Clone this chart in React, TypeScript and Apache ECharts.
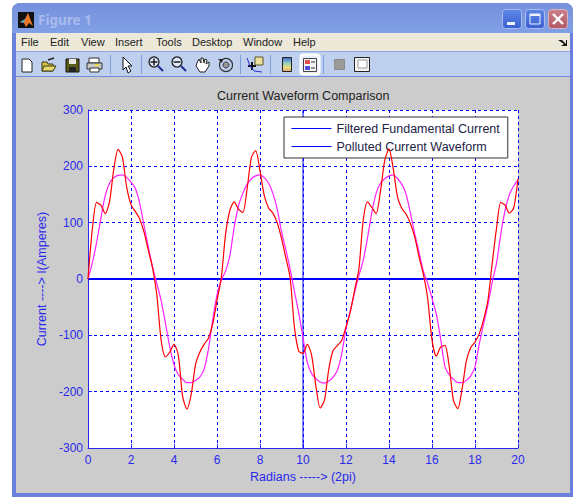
import React, { useEffect, useRef } from "react";
import * as echarts from "echarts";

const chartTitle = "Current Waveform Comparison";
const xName = "Radians -----> (2pi)";
const yName = "Current ----> I(Amperes)";
const windowTitle = "Figure 1";
const legendNames = ["Filtered Fundamental Current", "Polluted Current Waveform"];
const menuLabels = ["File", "Edit", "View", "Insert", "Tools", "Desktop", "Window", "Help"];
const menuLefts = [21, 50, 81, 115, 156, 192, 243, 293];

const xValues = [
  0, 0.2, 0.4, 0.6, 0.8, 1, 1.2, 1.4, 1.6, 1.8,
  2, 2.2, 2.4, 2.6, 2.8, 3, 3.2, 3.4, 3.6, 3.8,
  4, 4.2, 4.4, 4.6, 4.8, 5, 5.2, 5.4, 5.6, 5.8,
  6, 6.2, 6.4, 6.6, 6.8, 7, 7.2, 7.4, 7.6, 7.8,
  8, 8.2, 8.4, 8.6, 8.8, 9, 9.2, 9.4, 9.6, 9.8,
  10, 10.2, 10.4, 10.6, 10.8, 11, 11.2, 11.4, 11.6, 11.8,
  12, 12.2, 12.4, 12.6, 12.8, 13, 13.2, 13.4, 13.6, 13.8,
  14, 14.2, 14.4, 14.6, 14.8, 15, 15.2, 15.4, 15.6, 15.8,
  16, 16.2, 16.4, 16.6, 16.8, 17, 17.2, 17.4, 17.6, 17.8,
  18, 18.2, 18.4, 18.6, 18.8, 19, 19.2, 19.4, 19.6, 19.8,
  20,
];
const redValues = [
  0, 88, 136, 131, 116, 137, 195, 230, 216, 163,
  132, 120, 107, 84, 52, 20, -28, -108, -138, -130,
  -116, -135, -208, -231, -205, -152, -130, -116, -105, -80,
  -38, 2, 80, 122, 137, 124, 118, 160, 216, 228,
  192, 148, 126, 117, 100, 72, 38, 3, -85, -128,
  -132, -116, -135, -190, -229, -215, -160, -127, -118, -109,
  -85, -58, -20, 18, 104, 137, 127, 116, 155, 210,
  231, 195, 145, 125, 115, 98, 74, 39, 8, -35,
  -108, -137, -121, -118, -155, -216, -230, -195, -145, -122,
  -112, -97, -72, -38, 28, 90, 136, 131, 117, 126,
  178,
];
const magentaValues = [
  0, 28, 65, 108, 148, 170, 180, 184, 185, 180,
  172, 161, 135, 96, 58, 22, -8, -38, -78, -120,
  -152, -170, -178, -184, -184, -180, -174, -160, -125, -72,
  -28, -2, 14, 42, 92, 130, 152, 168, 178, 183,
  185, 180, 170, 152, 124, 84, 52, 18, -22, -60,
  -104, -148, -168, -177, -183, -185, -181, -174, -162, -133,
  -88, -56, -24, 6, 33, 73, 118, 152, 170, 178,
  183, 185, 178, 168, 150, 116, 80, 47, 14, -8,
  -34, -62, -106, -155, -170, -178, -184, -184, -180, -172,
  -156, -115, -80, -46, -6, 28, 80, 122, 150, 165,
  176,
];
const zeroLine = [[0, 0], [20, 0]];
const verticalLine = [[10, -300], [10, 300]];

const FONT = "'Liberation Sans', Arial, sans-serif";
const BLUE = "#2a2aee";

const r = (x: number, y: number, w: number, h: number, fill: any, extra: any = {}) => ({
  type: "rect", z: -5, shape: { x, y, width: w, height: h, r: extra.r ?? 0 },
  style: { fill, stroke: extra.stroke, lineWidth: extra.lw ?? 1 }, silent: true,
});
const poly = (points: number[][], fill: any, stroke?: string) => ({
  type: "polygon", z: -4, shape: { points }, style: { fill, stroke, lineWidth: 1 }, silent: true,
});
const ln = (x1: number, y1: number, x2: number, y2: number, stroke: string, lw = 1) => ({
  type: "line", z: -4, shape: { x1, y1, x2, y2 }, style: { stroke, lineWidth: lw }, silent: true,
});
const circ = (cx: number, cy: number, rad: number, fill: string, stroke: string, lw = 1) => ({
  type: "circle", z: -4, shape: { cx, cy, r: rad }, style: { fill, stroke, lineWidth: lw }, silent: true,
});
const vGrad = (stops: [number, string][]) => ({
  type: "linear", x: 0, y: 0, x2: 0, y2: 1,
  colorStops: stops.map(([offset, color]) => ({ offset, color })),
});

function chrome(): any[] {
  const els: any[] = [
    r(12, 3, 561, 494, "#6b7fdc", { r: [8, 8, 0, 0] }),
    r(12, 3, 561, 30, vGrad([[0, "#7590de"], [0.5, "#7b98e0"], [1, "#80a0e6"]]), { r: [8, 8, 0, 0] }),
    r(16, 33, 554, 18, "#ece9d8"),
    r(16, 51, 554, 25, "#bfd0ef"),
    ln(16, 51.5, 570, 51.5, "#8ea6e4"),
    r(16, 76, 554, 1.5, "#6d8ce0"),
    r(16, 77, 554, 416, "#cccccc"),
    // plot background
    r(88, 110, 430, 338, "#ffffff"),
    // window logo
    r(18, 12, 16, 16, "#111111"),
    poly([[20, 22], [25, 19], [28, 13], [33, 26], [29, 23], [26, 27], [24, 23]], "#e8772a"),
    poly([[20, 22], [25, 19], [24, 23]], "#4aa3c8"),
    // window buttons
    r(502.5, 9.5, 19, 19, vGrad([[0, "#5e86e6"], [1, "#3a5fd0"]]), { r: 3, stroke: "#a9bdf0" }),
    r(507, 22, 8, 3, "#eef2ff"),
    r(525.5, 9.5, 19, 19, vGrad([[0, "#5e86e6"], [1, "#3a5fd0"]]), { r: 3, stroke: "#a9bdf0" }),
    r(530, 14, 10, 10, "none", { stroke: "#eef2ff" }),
    r(530, 14, 10, 2, "#eef2ff"),
    r(548.5, 9.5, 19, 19, vGrad([[0, "#c98088"], [1, "#b25a68"]]), { r: 3, stroke: "#d9b3c0" }),
    ln(553, 14, 563, 24, "#ffffff", 2.4),
    ln(563, 14, 553, 24, "#ffffff", 2.4),
    // menu chevron
    poly([[558, 40], [562, 40], [566, 44], [566, 40], [567, 40], [567, 46], [561, 46], [564, 44]], "#111111"),
    // new doc
    poly([[22, 59], [29, 59], [32, 62], [32, 72], [22, 72]], "#ffffff", "#222222"),
    // open folder
    poly([[42, 62], [47, 62], [48, 64], [53, 64], [53, 71], [42, 71]], "#d8c24a", "#3a3a10"),
    poly([[44, 66], [56, 66], [53, 71], [42, 71]], "#e8d870", "#3a3a10"),
    ln(48, 60, 54, 58, "#222222", 1.5),
    // save
    r(66, 59, 13, 13, "#5a5a18", { stroke: "#111111" }),
    r(69, 59, 7, 5, "#e8e8e0"),
    r(69, 67, 7, 5, "#222222"),
    // print
    r(89, 58, 10, 5, "#ffffff", { stroke: "#333333" }),
    r(87, 63, 15, 6, "#c8c8c8", { stroke: "#333333" }),
    r(90, 68, 9, 4, "#ffffff", { stroke: "#333333" }),
    r(95, 64, 4, 2, "#e8d840"),
    // separators
    ln(110.5, 55, 110.5, 74, "#7f9cd8"),
    ln(141.5, 55, 141.5, 74, "#7f9cd8"),
    ln(240.5, 55, 240.5, 74, "#7f9cd8"),
    ln(270.5, 55, 270.5, 74, "#7f9cd8"),
    ln(323.5, 55, 323.5, 74, "#7f9cd8"),
    // arrow
    poly([[123, 57], [123, 70], [126, 67], [128, 73], [131, 71], [128, 66], [132, 66]], "#ffffff", "#111111"),
    // zoom in
    circ(154, 62, 5, "#dfe8fa", "#222222", 1.3),
    ln(150.5, 62, 157.5, 62, "#111111", 1.4),
    ln(154, 58.5, 154, 65.5, "#111111", 1.4),
    ln(158, 66, 163, 71, "#1a2a90", 2),
    // zoom out
    circ(177, 62, 5, "#dfe8fa", "#222222", 1.3),
    ln(173.5, 62, 180.5, 62, "#111111", 1.4),
    ln(181, 66, 186, 71, "#1a2a90", 2),
    // hand
    poly([[197, 63], [199, 59], [201, 63], [201, 58], [203, 58], [204, 63], [205, 59], [207, 60], [206, 64], [209, 62], [209, 66], [205, 72], [200, 72], [196, 66]], "#ffffff", "#222222"),
    // rotate
    circ(226, 65, 6.5, "none", "#333333", 1.2),
    circ(226, 65, 3, "#999999", "#333333", 1),
    poly([[218, 59], [223, 59], [222, 63]], "#222222"),
    // data cursor
    r(255, 57, 8, 8, "#ecdf9a", { stroke: "#555530" }),
    ln(248, 66, 256, 66, "#111111", 2),
    ln(252, 62, 252, 70, "#111111", 2),
    { type: "polyline", z: -4, shape: { points: [[247, 58], [250, 66], [254, 71], [262, 72]] }, style: { stroke: "#2a2ad0", fill: "none", lineWidth: 1 }, silent: true },
    // colorbar
    r(282.5, 57.5, 9, 14, vGrad([[0, "#4060d0"], [0.4, "#90d0c0"], [0.7, "#e8e080"], [1, "#e8a070"]]), { stroke: "#222222" }),
    // legend toggle
    r(300.5, 54.5, 19, 20, "#e8eefa", { r: 3, stroke: "#ffffff", lw: 2 }),
    r(303.5, 58.5, 13, 13, "#f4f4f4", { stroke: "#444444" }),
    r(305, 60, 5, 4, "#e85050"),
    r(305, 66, 5, 4, "#5050e0"),
    ln(311, 62, 315, 62, "#333333"),
    ln(311, 68, 315, 68, "#333333"),
    // grey square
    r(334.5, 59.5, 10, 10, "#9a9a9a", { stroke: "#8a8a8a" }),
    // window icon
    r(354.5, 57.5, 15, 14, "#f4f4f4", { stroke: "#222222" }),
    r(358, 60, 9, 8, "#ffffff", { stroke: "#999999" }),
    // window title text
    {
      type: "text", z: -3, x: 38, y: 20, silent: true,
      style: { text: windowTitle, fill: "#a9bbee", font: `bold 13.5px 'Noto Sans', ${FONT}`, textVerticalAlign: "middle" },
    },
  ];
  menuLabels.forEach((label, i) => {
    els.push({
      type: "text", z: -3, x: menuLefts[i], y: 42, silent: true,
      style: { text: label, fill: "#222222", font: `11px ${FONT}`, textVerticalAlign: "middle" },
    });
  });
  return els;
}

export default function App() {
  const ref = useRef<HTMLDivElement>(null);
  useEffect(() => {
    document.body.style.margin = "0";
    document.body.style.overflow = "hidden";
    const chart = echarts.init(ref.current!, undefined, { renderer: "svg" });
    const pair = (ys: number[]) => xValues.map((x, i) => [x, ys[i]]);
    chart.setOption({
      animation: false,
      backgroundColor: "#ffffff",
      textStyle: { fontFamily: FONT },
      title: {
        text: chartTitle, left: 215, top: 87, padding: 2,
        textStyle: { fontFamily: FONT, fontSize: 12.5, fontWeight: "normal", color: "#222222" },
      },
      grid: { left: 88, top: 110, width: 430, height: 338, containLabel: false },
      legend: {
        data: legendNames, orient: "vertical", left: 284, top: 117, selectedMode: false,
        backgroundColor: "#ffffff", borderColor: "#333333", borderWidth: 1,
        padding: [5, 8, 5, 7], itemGap: 5, itemWidth: 40, itemHeight: 14, align: "left",
        itemStyle: { opacity: 0 }, lineStyle: { width: 1, color: "#0000ff" },
        textStyle: { fontFamily: FONT, fontSize: 12.5, color: "#222244" },
      },
      xAxis: {
        type: "value", min: 0, max: 20, interval: 2, name: xName, nameLocation: "middle", nameGap: 22,
        nameTextStyle: { color: BLUE, fontFamily: FONT, fontSize: 12.5 },
        axisLine: { onZero: false, lineStyle: { color: "#2a2aee", width: 1 } },
        axisTick: { inside: true, length: 4, lineStyle: { color: "#2a2aee" } },
        axisLabel: { color: BLUE, fontFamily: FONT, fontSize: 12, margin: 6 },
        splitLine: { show: true, lineStyle: { color: "#0000ff", width: 1, type: [3, 3] } },
      },
      yAxis: {
        type: "value", min: -300, max: 300, interval: 100, name: yName, nameLocation: "middle", nameGap: 36,
        nameTextStyle: { color: BLUE, fontFamily: FONT, fontSize: 12.5 },
        axisLine: { onZero: false, lineStyle: { color: "#2a2aee", width: 1 } },
        axisTick: { inside: true, length: 4, lineStyle: { color: "#2a2aee" } },
        axisLabel: { color: BLUE, fontFamily: FONT, fontSize: 12, margin: 5 },
        splitLine: { show: true, lineStyle: { color: "#0000ff", width: 1, type: [3, 3] } },
      },
      graphic: { elements: chrome() },
      series: [
        {
          name: legendNames[0], type: "line", data: zeroLine, symbol: "none", z: 3,
          lineStyle: { color: "#0000ff", width: 2 }, itemStyle: { color: "#0000ff" },
        },
        {
          name: legendNames[1], type: "line", data: verticalLine, symbol: "none", z: 3,
          lineStyle: { color: "#0000ff", width: 1 }, itemStyle: { color: "#0000ff" },
        },
        {
          name: "Fundamental", type: "line", data: pair(magentaValues), symbol: "none", smooth: 0.25, z: 4,
          lineStyle: { color: "#ff22ff", width: 1.2 },
        },
        {
          name: "Polluted", type: "line", data: pair(redValues), symbol: "none", smooth: 0.25, z: 5,
          lineStyle: { color: "#ff0000", width: 1.2 },
        },
      ],
    });
    return () => chart.dispose();
  }, []);
  return <div ref={ref} style={{ width: 573, height: 497 }} />;
}
